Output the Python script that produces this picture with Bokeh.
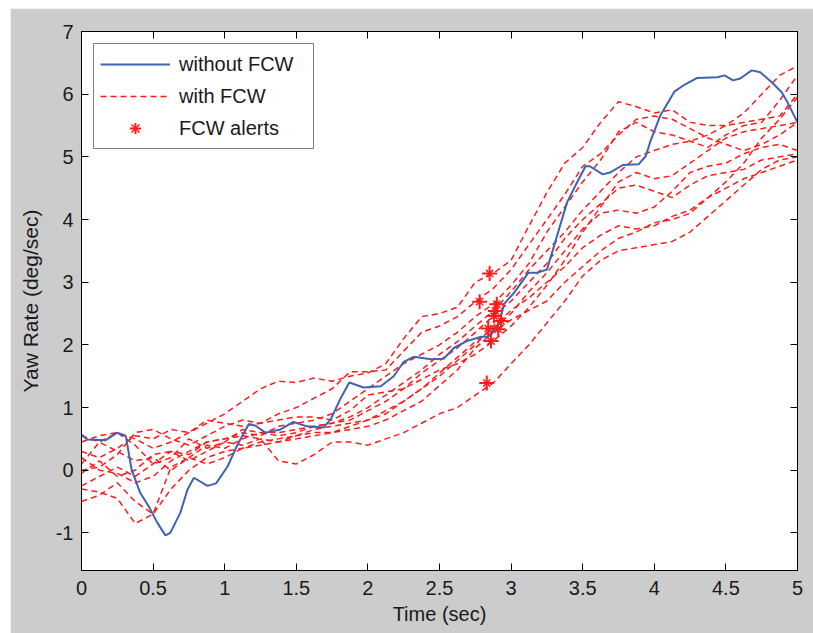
from bokeh.plotting import figure
from bokeh.models import (LinearAxis, Range1d, FixedTicker, Legend, LegendItem,
                          ColumnDataSource, Spacer)
from bokeh.layouts import column, row
from bokeh.embed import file_html
from bokeh.resources import INLINE

# ---------------- data ----------------
x_ticks = [0, 0.5, 1, 1.5, 2, 2.5, 3, 3.5, 4, 4.5, 5]
x_tick_labels = ["0", "0.5", "1", "1.5", "2", "2.5", "3", "3.5", "4", "4.5", "5"]
y_ticks = [-1, 0, 1, 2, 3, 4, 5, 6, 7]
y_tick_labels = ["-1", "0", "1", "2", "3", "4", "5", "6", "7"]

# without FCW (blue solid)
blue_t = [0.0, 0.04, 0.17, 0.25, 0.31, 0.35, 0.41, 0.47, 0.53, 0.586, 0.62, 0.69, 0.74, 0.785,
          0.88, 0.94, 1.02, 1.09, 1.17, 1.215, 1.285, 1.39, 1.48, 1.575, 1.69, 1.74, 1.81, 1.87,
          1.97, 2.09, 2.18, 2.25, 2.32, 2.44, 2.53, 2.60, 2.69, 2.79, 2.84, 2.915, 2.95, 3.02,
          3.07, 3.12, 3.18, 3.25, 3.30, 3.39, 3.46, 3.52, 3.55, 3.64, 3.69, 3.78, 3.89, 3.94,
          3.97, 4.04, 4.14, 4.21, 4.30, 4.44, 4.49, 4.55, 4.60, 4.68, 4.74, 4.82, 4.89, 4.93, 5.0]
blue_y = [0.57, 0.49, 0.48, 0.60, 0.54, 0.01, -0.36, -0.58, -0.84, -1.04, -1.00, -0.68, -0.31, -0.12,
          -0.25, -0.21, 0.06, 0.41, 0.74, 0.71, 0.60, 0.65, 0.77, 0.70, 0.68, 0.81, 1.15, 1.40,
          1.32, 1.34, 1.50, 1.73, 1.81, 1.77, 1.78, 1.95, 2.06, 2.13, 2.13, 2.33, 2.65, 2.83,
          2.99, 3.15, 3.15, 3.20, 3.58, 4.27, 4.59, 4.85, 4.85, 4.72, 4.75, 4.87, 4.88, 5.01,
          5.23, 5.65, 6.04, 6.15, 6.26, 6.27, 6.30, 6.22, 6.25, 6.38, 6.35, 6.19, 6.03, 5.87, 5.55]

# with FCW (red dashed runs), sampled on a common time grid
run_t = [0.0, 0.125, 0.25, 0.375, 0.5, 0.625, 0.75, 0.875, 1.0, 1.125, 1.25, 1.375, 1.5, 1.625,
         1.75, 1.875, 2.0, 2.125, 2.25, 2.375, 2.5, 2.625, 2.75, 2.875, 3.0, 3.125, 3.25, 3.375,
         3.5, 3.625, 3.75, 3.875, 4.0, 4.125, 4.25, 4.375, 4.5, 4.625, 4.75, 4.875, 5.0]
run1 = [0.45, 0.55, 0.60, 0.50, 0.35, 0.45, 0.60, 0.75, 0.90, 1.10, 1.30, 1.42, 1.40, 1.47,
        1.42, 1.50, 1.55, 1.70, 2.10, 2.45, 2.50, 2.60, 3.00, 3.14, 3.35, 3.90, 4.43, 4.90,
        5.15, 5.55, 5.88, 5.80, 5.70, 5.75, 5.55, 5.50, 5.50, 5.70, 6.00, 6.30, 6.45]
run2 = [0.30, 0.20, 0.35, 0.55, 0.50, 0.65, 0.60, 0.80, 0.75, 0.70, 0.75, 0.90, 1.00, 1.15,
        1.30, 1.57, 1.57, 1.60, 1.90, 2.20, 2.30, 2.45, 2.69, 2.90, 3.20, 3.60, 4.00, 4.40,
        4.85, 5.05, 5.35, 5.60, 5.65, 5.60, 5.45, 5.30, 5.20, 5.10, 5.20, 5.35, 5.55]
run3 = [-0.25, -0.10, 0.05, -0.10, 0.10, 0.30, 0.25, 0.45, 0.50, 0.60, 0.55, 0.70, 0.75, 0.80,
        0.90, 1.10, 1.30, 1.50, 1.70, 1.85, 2.00, 2.20, 2.45, 2.65, 2.95, 3.30, 3.80, 4.20,
        4.60, 4.95, 5.40, 5.55, 5.40, 5.35, 5.25, 5.15, 5.35, 5.50, 5.55, 5.90, 6.30]
run4 = [0.10, 0.45, 0.30, 0.15, 0.20, 0.00, 0.20, 0.40, 0.35, 0.50, 0.60, 0.55, 0.60, 0.70,
        0.75, 0.85, 1.00, 1.20, 1.40, 1.60, 1.85, 2.05, 2.30, 2.54, 2.85, 3.20, 3.50, 3.80,
        4.15, 4.45, 4.75, 5.00, 5.10, 5.20, 5.25, 5.35, 5.50, 5.55, 5.60, 5.65, 6.00]
run5 = [0.55, 0.45, 0.60, 0.40, 0.10, 0.20, 0.50, 0.35, 0.45, 0.65, 0.60, 0.60, 0.65, 0.70,
        0.75, 0.80, 0.95, 1.10, 1.30, 1.55, 1.75, 1.95, 2.20, 2.46, 2.70, 3.00, 3.30, 3.70,
        4.00, 4.25, 4.50, 4.55, 4.45, 4.35, 4.55, 4.70, 4.75, 4.80, 4.95, 5.00, 5.05]
run6 = [-0.05, 0.15, -0.10, 0.00, 0.25, 0.30, 0.15, 0.30, 0.45, 0.40, 0.50, 0.45, 0.55, 0.60,
        0.60, 0.70, 0.80, 0.95, 1.10, 1.30, 1.50, 1.75, 2.00, 2.30, 2.55, 2.75, 3.00, 3.25,
        3.55, 3.75, 3.90, 3.85, 3.90, 4.05, 4.15, 4.35, 4.50, 4.65, 4.75, 4.85, 4.95]
run7 = [-0.50, -0.40, -0.20, -0.50, -0.70, -0.30, 0.00, 0.20, 0.30, 0.35, 0.45, 0.50, 0.55, 0.65,
        0.70, 0.75, 0.80, 0.90, 1.10, 1.30, 1.55, 1.80, 2.05, 2.26, 2.50, 2.85, 3.15, 3.50,
        3.85, 4.10, 4.15, 4.10, 4.20, 4.45, 4.75, 4.85, 4.90, 5.05, 5.15, 5.20, 5.10]
run8 = [-0.30, -0.35, -0.45, -0.85, -0.70, 0.05, 0.20, 0.10, 0.20, 0.35, 0.40, 0.45, 0.50, 0.55,
        0.60, 0.65, 0.70, 0.80, 0.95, 1.10, 1.35, 1.60, 1.95, 2.20, 2.40, 2.55, 2.70, 3.00,
        3.25, 3.50, 3.70, 3.80, 3.95, 4.00, 4.10, 4.35, 4.60, 4.90, 5.30, 5.60, 5.95]
run9 = [0.00, 0.05, 0.25, 0.60, 0.65, 0.50, 0.40, 0.55, 0.70, 0.80, 0.75, 0.80, 0.85, 0.85,
        0.80, 0.95, 1.20, 1.25, 1.30, 1.45, 1.60, 1.70, 1.85, 2.06, 2.30, 2.60, 2.95, 3.35,
        3.80, 4.20, 4.60, 4.75, 4.65, 4.70, 4.90, 5.10, 5.30, 5.40, 5.45, 5.50, 5.55]
run10 = [0.20, 0.00, -0.05, -0.20, -0.10, 0.15, 0.30, 0.45, 0.50, 0.55, 0.50, 0.15, 0.10, 0.25,
         0.45, 0.45, 0.40, 0.50, 0.60, 0.75, 0.90, 1.00, 1.20, 1.39, 1.70, 2.00, 2.35, 2.70,
         3.10, 3.35, 3.50, 3.55, 3.60, 3.65, 3.80, 4.05, 4.30, 4.55, 4.80, 4.95, 5.00]
runs = [run1, run2, run3, run4, run5, run6, run7, run8, run9, run10]

# FCW alerts
alert_t = [2.85, 2.78, 2.90, 2.89, 2.88, 2.93, 2.84, 2.91, 2.86, 2.83]
alert_y = [3.14, 2.69, 2.65, 2.54, 2.46, 2.38, 2.26, 2.25, 2.06, 1.39]

# ---------------- figure ----------------
FONT = "Liberation Sans"
GRAY = "#cccccc"

p = figure(width=803, height=625, x_range=Range1d(0, 5), y_range=Range1d(-1.6, 7),
           output_backend="svg", toolbar_location=None,
           min_border_left=71, min_border_right=16, min_border_top=23, min_border_bottom=63,
           background_fill_color="white", border_fill_color=GRAY,
           outline_line_color="black", outline_line_width=1)
p.xgrid.visible = False
p.ygrid.visible = False

red_src = ColumnDataSource(dict(xs=[run_t] * len(runs), ys=runs))
red = p.multi_line("xs", "ys", source=red_src, line_color="#ff1a1a", line_width=1.5,
                   line_dash="6 4")
blue = p.line(blue_t, blue_y, line_color="#3d63b3", line_width=2)
s1 = p.scatter(alert_t, alert_y, marker="cross", size=15, line_color="#ff1a1a", line_width=2)
s2 = p.scatter(alert_t, alert_y, marker="x", size=10, line_color="#ff1a1a", line_width=1.5)


def style_axis(ax, ticks, labels, show_labels=True):
    ax.ticker = FixedTicker(ticks=ticks)
    ax.major_tick_in = 7
    ax.major_tick_out = 0
    ax.minor_tick_in = 0
    ax.minor_tick_out = 0
    ax.axis_line_color = "black"
    ax.major_tick_line_color = "black"
    ax.major_label_text_font = FONT
    ax.major_label_text_color = "#1a1a1a"
    ax.major_label_text_font_size = "20px"
    ax.axis_label_text_font = FONT
    ax.axis_label_text_font_style = "normal"
    ax.axis_label_text_color = "#1a1a1a"
    ax.axis_label_text_font_size = "20px"
    if show_labels:
        ax.major_label_overrides = {t: l for t, l in zip(ticks, labels)}
    else:
        ax.major_label_overrides = {t: "" for t in ticks}
        ax.major_label_standoff = 0


style_axis(p.xaxis[0], x_ticks, x_tick_labels)
style_axis(p.yaxis[0], y_ticks, y_tick_labels)
p.xaxis[0].axis_label = "Time (sec)"
p.yaxis[0].axis_label = "Yaw Rate (deg/sec)"
p.yaxis[0].axis_label_text_font_size = "21px"
p.xaxis[0].major_label_standoff = 10
p.xaxis[0].axis_label_standoff = 5
p.yaxis[0].major_label_standoff = 8
p.yaxis[0].axis_label_standoff = 11

top_ax = LinearAxis()
style_axis(top_ax, x_ticks, x_tick_labels, show_labels=False)
p.add_layout(top_ax, "above")
right_ax = LinearAxis()
style_axis(right_ax, y_ticks, y_tick_labels, show_labels=False)
p.add_layout(right_ax, "right")

legend = Legend(items=[LegendItem(label="without FCW", renderers=[blue]),
                       LegendItem(label="with FCW", renderers=[red]),
                       LegendItem(label="FCW alerts", renderers=[s1, s2])],
                location="top_left")
legend.label_text_font = FONT
legend.label_text_font_size = "20px"
legend.label_text_color = "#1a1a1a"
legend.glyph_width = 70
legend.glyph_height = 28
legend.label_height = 28
legend.label_width = 128
legend.label_standoff = 9
legend.spacing = 4
legend.padding = 6
legend.margin = 12
legend.border_line_color = "black"
legend.border_line_width = 1
legend.background_fill_color = "white"
legend.background_fill_alpha = 1
p.add_layout(legend)

layout = column(Spacer(height=8), row(Spacer(width=10), p))

open("out.html", "w").write(file_html(layout, INLINE))
